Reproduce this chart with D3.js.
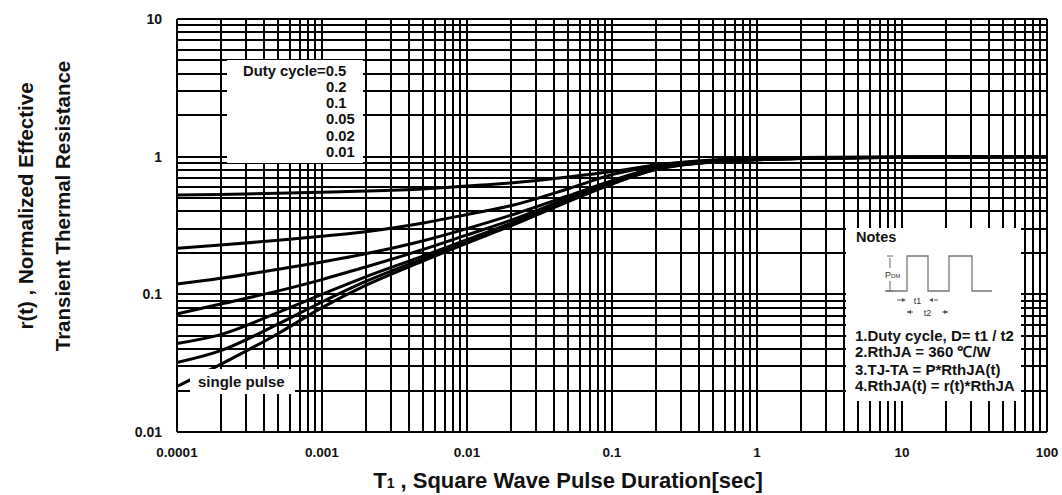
<!DOCTYPE html>
<html><head><meta charset="utf-8">
<script src="https://cdn.jsdelivr.net/npm/d3@7"></script>
<style>
html,body{margin:0;padding:0;background:#fff;}
svg{display:block;font-family:"Liberation Sans",Arial,sans-serif;}
</style></head>
<body><svg id="c" width="1062" height="495"></svg>
<script>
// ---- data ----
const tValues = [1e-4, 2e-4, 5e-4, 1e-3, 2e-3, 5e-3, 1e-2, 2e-2, 5e-2, 0.1, 0.2, 0.5, 1, 2, 10, 100];
const d050 = [0.527, 0.532, 0.542, 0.552, 0.562, 0.583, 0.612, 0.645, 0.712, 0.78, 0.87, 0.945, 0.972, 0.985, 0.995, 1.0];
const d020 = [0.216, 0.228, 0.247, 0.264, 0.285, 0.33, 0.38, 0.44, 0.585, 0.74, 0.86, 0.937, 0.965, 0.98, 0.99, 1.0];
const d010 = [0.119, 0.131, 0.152, 0.172, 0.197, 0.245, 0.3, 0.375, 0.52, 0.67, 0.83, 0.93, 0.96, 0.975, 0.99, 1.0];
const d005 = [0.072, 0.085, 0.106, 0.128, 0.158, 0.212, 0.27, 0.345, 0.5, 0.655, 0.82, 0.925, 0.955, 0.972, 0.99, 1.0];
const d002 = [0.044, 0.051, 0.074, 0.1, 0.134, 0.19, 0.25, 0.328, 0.485, 0.645, 0.815, 0.92, 0.953, 0.97, 0.99, 1.0];
const d001 = [0.032, 0.039, 0.061, 0.088, 0.124, 0.182, 0.243, 0.32, 0.478, 0.638, 0.81, 0.918, 0.95, 0.97, 0.99, 1.0];
const single = [0.0214, 0.031, 0.052, 0.08, 0.116, 0.175, 0.236, 0.314, 0.472, 0.632, 0.805, 0.915, 0.95, 0.97, 0.99, 1.0];
const seriesList = [d050, d020, d010, d005, d002, d001, single];
const dutyLabels = ["0.2", "0.1", "0.05", "0.02", "0.01"];
const xTickLabels = ["0.0001", "0.001", "0.01", "0.1", "1", "10", "100"];
const yTickLabels = ["0.01", "0.1", "1", "10"];
const notesLines = ["1.Duty cycle, D= t1 / t2", "2.RthJA =  360 \u2103/W", "3.TJ-TA = P*RthJA(t)", "4.RthJA(t) = r(t)*RthJA"];

// ---- layout ----
const svg = d3.select("#c");
const L = 177, R = 1047, T = 19, B = 432;
const x = d3.scaleLog().domain([1e-4, 100]).range([L, R]);
const y = d3.scaleLog().domain([0.01, 10]).range([B, T]);

// grid
const xGrid = [];
for (let e = -4; e < 2; e++) for (let m = 1; m <= 9; m++) xGrid.push(m * Math.pow(10, e));
xGrid.push(100);
const yGrid = [];
for (let e = -2; e < 1; e++) for (let m = 1; m <= 9; m++) yGrid.push(m * Math.pow(10, e));
yGrid.push(10);

const g = svg.append("g");
g.selectAll("line.vx").data(xGrid).join("line")
  .attr("x1", d => Math.round(x(d))).attr("x2", d => Math.round(x(d)))
  .attr("y1", T).attr("y2", B).attr("stroke", "#000").attr("stroke-width", 2);
g.selectAll("line.hy").data(yGrid).join("line")
  .attr("y1", d => Math.round(y(d))).attr("y2", d => Math.round(y(d)))
  .attr("x1", L).attr("x2", R).attr("stroke", "#000").attr("stroke-width", 2);

// curves
const line = d3.line().x((d, i) => x(tValues[i])).y(d => y(d)).curve(d3.curveMonotoneX);
svg.append("g").selectAll("path").data(seriesList).join("path")
  .attr("d", d => line(d)).attr("fill", "none").attr("stroke", "#000").attr("stroke-width", 3);

// tick labels
svg.append("g").selectAll("text").data(xTickLabels).join("text")
  .attr("x", d => x(+d)).attr("y", 457).attr("text-anchor", "middle")
  .attr("font-size", 13.5).attr("font-weight", "bold").attr("fill", "#111").text(d => d);
svg.append("g").selectAll("text").data(yTickLabels).join("text")
  .attr("x", 162).attr("y", d => y(+d) + 5).attr("text-anchor", "end")
  .attr("font-size", 14).attr("font-weight", "bold").attr("fill", "#111").text(d => d);

// axis titles
const xt = svg.append("text").attr("x", 568).attr("y", 488).attr("text-anchor", "middle")
  .attr("font-size", 22).attr("font-weight", "bold").attr("fill", "#111");
xt.append("tspan").text("T");
xt.append("tspan").attr("font-size", 14).text("1");
xt.append("tspan").text(" , Square Wave Pulse Duration[sec]");
svg.append("text").attr("transform", "translate(33,206) rotate(-90)").attr("text-anchor", "middle")
  .attr("font-size", 20.5).attr("font-weight", "bold").attr("fill", "#111").text("r(t) , Normalized Effective");
svg.append("text").attr("transform", "translate(70,206) rotate(-90)").attr("text-anchor", "middle")
  .attr("font-size", 20.5).attr("font-weight", "bold").attr("fill", "#111").text("Transient Thermal Resistance");

// legend box
svg.append("rect").attr("x", 227).attr("y", 60).attr("width", 136).attr("height", 103).attr("fill", "#fff");
const lg = svg.append("g").attr("font-size", 14.8).attr("font-weight", "bold").attr("fill", "#111");
lg.append("text").attr("x", 243).attr("y", 76).text("Duty cycle=0.5");
lg.selectAll("text.n").data(dutyLabels).join("text").attr("class", "n")
  .attr("x", 326).attr("y", (d, i) => 92 + i * 16.2).text(d => d);

// single pulse label
svg.append("rect").attr("x", 190).attr("y", 369).attr("width", 105).attr("height", 25).attr("fill", "#fff");
svg.append("text").attr("x", 198).attr("y", 387).attr("font-size", 15).attr("font-weight", "bold")
  .attr("fill", "#111").text("single pulse");

// notes box
svg.append("rect").attr("x", 846).attr("y", 228).attr("width", 175).attr("height", 173).attr("fill", "#fff");
const ng = svg.append("g");
ng.append("text").attr("x", 856).attr("y", 242).attr("font-size", 14.5).attr("font-weight", "bold")
  .attr("fill", "#111").text("Notes");
ng.append("path").attr("d", "M885,291 H907 V256 H928 V291 H949 V256 H972 V291 H992")
  .attr("fill", "none").attr("stroke", "#777").attr("stroke-width", 1.3);
// PDM arrow
ng.append("path").attr("d", "M890,258 V268 M890,281 V290 M887,256 H893 M887,291 H893")
  .attr("stroke", "#666").attr("stroke-width", 1);
const pdm = ng.append("text").attr("x", 885).attr("y", 278).attr("font-size", 9).attr("fill", "#333");
pdm.append("tspan").text("P");
pdm.append("tspan").attr("font-size", 6).text("DM");
// t1 / t2
ng.append("path").attr("d", "M897,300 H902 M934,300 H938 M907,312 H913 M942,312 H948").attr("stroke", "#555").attr("stroke-width", 1);
ng.append("path").attr("d", "M902,298 L906,300 L902,302 Z M933,298 L929,300 L933,302 Z M911,310 L907,312 L911,314 Z M944,310 L948,312 L944,314 Z").attr("fill", "#555");
ng.append("text").attr("x", 917.5).attr("y", 303.5).attr("text-anchor", "middle").attr("font-size", 9).attr("fill", "#333").text("t1");
ng.append("text").attr("x", 927.5).attr("y", 315.5).attr("text-anchor", "middle").attr("font-size", 9).attr("fill", "#333").text("t2");
ng.selectAll("text.nl").data(notesLines).join("text").attr("class", "nl")
  .attr("x", 855).attr("y", (d, i) => [341, 357, 375, 391][i])
  .attr("font-size", 15).attr("font-weight", "bold").attr("fill", "#111").text(d => d);
</script></body></html>
